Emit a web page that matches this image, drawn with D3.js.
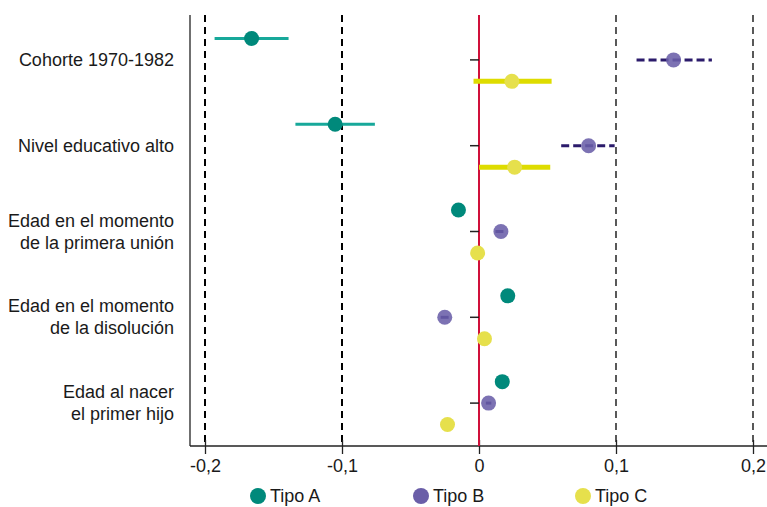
<!DOCTYPE html>
<html>
<head>
<meta charset="utf-8">
<script src="https://cdn.jsdelivr.net/npm/d3@7"></script>
<style>
  body { margin: 0; background: #fff; }
  svg text { font-family: "Liberation Sans", Arial, sans-serif; fill: #1a1a1a; }
</style>
</head>
<body>
<div id="chart"></div>
<script>
const categories = [
    ["Cohorte 1970-1982"],
    ["Nivel educativo alto"],
    ["Edad en el momento", "de la primera unión"],
    ["Edad en el momento", "de la disolución"],
    ["Edad al nacer", "el primer hijo"]
];
const seriesNames = ["Tipo A", "Tipo B", "Tipo C"];

// estimates and confidence bounds per category
const tipoA = [-0.166, -0.105, -0.015, 0.021, 0.017];
const tipoALow = [-0.193, -0.134, -0.015, 0.021, 0.017];
const tipoAHigh = [-0.139, -0.076, -0.015, 0.021, 0.017];

const tipoB = [0.142, 0.080, 0.016, -0.025, 0.007];
const tipoBLow = [0.115, 0.060, 0.012, -0.028, 0.005];
const tipoBHigh = [0.170, 0.099, 0.020, -0.022, 0.009];

const tipoC = [0.024, 0.026, -0.001, 0.004, -0.023];
const tipoCLow = [-0.004, 0.000, -0.001, 0.004, -0.023];
const tipoCHigh = [0.053, 0.052, -0.001, 0.004, -0.023];

const xTicks = [-0.2, -0.1, 0, 0.1, 0.2];

const series = [
    { name: "Tipo A", est: tipoA, lo: tipoALow, hi: tipoAHigh, dot: "#00897b", line: "#17a89a", lw: 3, dash: null, op: 1 },
    { name: "Tipo B", est: tipoB, lo: tipoBLow, hi: tipoBHigh, dot: "#6a5ea8", line: "#2b1b6b", lw: 3, dash: "8,4", op: 0.88 },
    { name: "Tipo C", est: tipoC, lo: tipoCLow, hi: tipoCHigh, dot: "#e6e04c", line: "#dedc00", lw: 5, dash: null, op: 1 }
];

const W = 767, H = 507;
const plotLeft = 190, plotTop = 17, plotBottom = 446;

const svg = d3.select("#chart").append("svg")
    .attr("width", W)
    .attr("height", H);

const x = d3.scaleLinear().domain([-0.2, 0.2]).range([205, 753]);

const y = d3.scaleBand()
    .domain(d3.range(categories.length))
    .range([plotTop, plotBottom]);

const inner = d3.scalePoint()
    .domain(seriesNames)
    .range([-y.bandwidth() * 0.25, y.bandwidth() * 0.25]);

const locale = d3.formatLocale({ decimal: ",", thousands: ".", grouping: [3], currency: ["", ""], minus: "-" });
const fmt = v => v === 0 ? "0" : locale.format(".1f")(v);

// dashed reference lines
svg.append("g")
    .selectAll("line")
    .data(xTicks.filter(d => d !== 0))
    .enter()
    .append("line")
    .attr("x1", d => x(d))
    .attr("x2", d => x(d))
    .attr("y1", 15)
    .attr("y2", plotBottom)
    .attr("stroke", "#000")
    .attr("stroke-width", d => d < 0 ? 2 : 1.3)
    .attr("stroke-dasharray", "7,5");

// x axis
const xAxis = svg.append("g")
    .attr("transform", `translate(0,${plotBottom})`)
    .call(d3.axisBottom(x).tickValues(xTicks).tickFormat(fmt).tickSize(8).tickSizeOuter(0));
xAxis.select(".domain").remove();
xAxis.append("line")
    .attr("x1", plotLeft).attr("x2", W)
    .attr("stroke", "#222").attr("stroke-width", 1.3);
xAxis.selectAll(".tick line").attr("stroke", "#222").attr("stroke-width", 1.3).attr("y1", -6);
xAxis.selectAll(".tick text")
    .attr("font-size", "18px")
    .attr("dy", null)
    .attr("y", 26);

// left axis line
svg.append("line")
    .attr("x1", plotLeft).attr("x2", plotLeft)
    .attr("y1", 15).attr("y2", plotBottom)
    .attr("stroke", "#222").attr("stroke-width", 1.3);

// zero line
svg.append("line")
    .attr("x1", x(0)).attr("x2", x(0))
    .attr("y1", 15).attr("y2", plotBottom)
    .attr("stroke", "#d0103a")
    .attr("stroke-width", 2);

// category ticks on zero line
svg.append("g")
    .selectAll("line")
    .data(categories)
    .enter()
    .append("line")
    .attr("x1", x(0) - 9).attr("x2", x(0))
    .attr("y1", (d, i) => y(i) + y.bandwidth() / 2)
    .attr("y2", (d, i) => y(i) + y.bandwidth() / 2)
    .attr("stroke", "#222")
    .attr("stroke-width", 1.5);

// category labels
const labels = svg.append("g")
    .selectAll("text")
    .data(categories)
    .enter()
    .append("text")
    .attr("text-anchor", "end")
    .attr("font-size", "18px")
    .attr("y", (d, i) => y(i) + y.bandwidth() / 2);
labels.selectAll("tspan")
    .data(d => d.map((t, j) => ({ t, j, n: d.length })))
    .enter()
    .append("tspan")
    .attr("x", 174)
    .attr("dy", d => d.j === 0 ? 6 - (d.n - 1) * 11 : 22)
    .text(d => d.t);

// confidence intervals and points
series.forEach(s => {
    const g = svg.append("g");
    const rows = categories.map((c, i) => ({ i, est: s.est[i], lo: s.lo[i], hi: s.hi[i] }));
    const cy = d => y(d.i) + y.bandwidth() / 2 + inner(s.name);

    g.selectAll("line")
        .data(rows.filter(d => d.hi > d.lo))
        .enter()
        .append("line")
        .attr("x1", d => x(d.lo))
        .attr("x2", d => x(d.hi))
        .attr("y1", cy)
        .attr("y2", cy)
        .attr("stroke", s.line)
        .attr("stroke-width", s.lw)
        .attr("stroke-dasharray", s.dash);

    g.selectAll("circle")
        .data(rows)
        .enter()
        .append("circle")
        .attr("cx", d => x(d.est))
        .attr("cy", cy)
        .attr("r", 7.5)
        .attr("fill", s.dot)
        .attr("fill-opacity", s.op);
});

// legend
const legendX = [258, 421, 583];
const legend = svg.append("g")
    .selectAll("g")
    .data(series)
    .enter()
    .append("g")
    .attr("transform", (d, i) => `translate(${legendX[i]},496)`);
legend.append("circle")
    .attr("r", 8)
    .attr("fill", d => d.dot);
legend.append("text")
    .attr("x", 12)
    .attr("y", 6)
    .attr("font-size", "18px")
    .text(d => d.name);
</script>
</body>
</html>
